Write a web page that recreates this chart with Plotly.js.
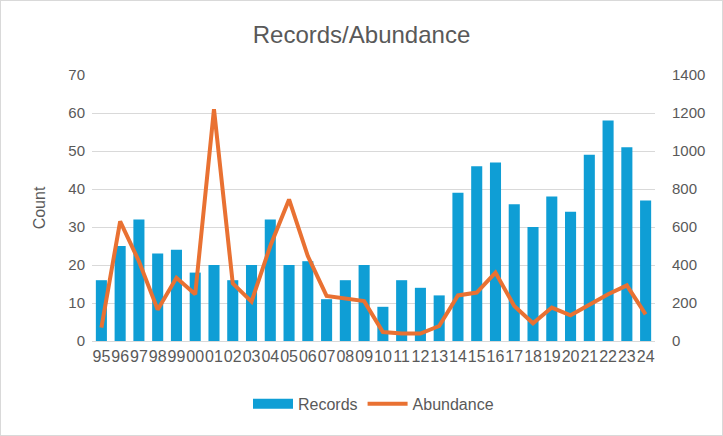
<!DOCTYPE html>
<html>
<head>
<meta charset="utf-8">
<script src="https://cdn.plot.ly/plotly-3.0.1.min.js"></script>
<style>
html,body{margin:0;padding:0;background:#fff;}
#chart{width:723px;height:436px;box-sizing:border-box;border:1px solid #d9d9d9;}
</style>
</head>
<body>
<div id="chart"></div>
<script>
const years = ["95","96","97","98","99","00","01","02","03","04","05","06","07","08","09","10","11","12","13","14","15","16","17","18","19","20","21","22","23","24"];
const records = [16,25,32,23,24,18,20,16,20,32,20,21,11,16,20,9,16,14,12,39,46,47,36,30,38,34,49,58,51,37];
const abundance = [70,630,420,165,333,246,1220,303,207,500,745,447,237,223,210,47,39,39,79,240,255,360,184,93,176,135,188,246,293,140];
const leftTicks = [0,10,20,30,40,50,60,70];
const rightTicks = [0,200,400,600,800,1000,1200,1400];

const txt = '#595959';
const fnt = 'Liberation Sans, Arial, sans-serif';

const data = [
  {type:'bar', x:years, y:records, name:'Records', marker:{color:'#0F9ED5'}, yaxis:'y', showlegend:false},
  {type:'scatter', mode:'lines', x:[null], y:[null], name:'Records', line:{color:'#0F9ED5', width:12}, yaxis:'y', hoverinfo:'skip'},
  {type:'scatter', mode:'lines', x:years, y:abundance, name:'Abundance', line:{color:'#E97132', width:4}, yaxis:'y2'}
];

const layout = {
  width:721, height:434,
  margin:{l:91, r:67, t:74, b:94},
  paper_bgcolor:'#fff', plot_bgcolor:'#fff',
  font:{family:fnt, color:txt, size:15},
  title:{text:'Records/Abundance', font:{size:24, color:txt, family:fnt}, x:0.5, xanchor:'center', y:0.943, yanchor:'top'},
  bargap:0.41,
  showlegend:true,
  legend:{orientation:'h', x:0.5, xanchor:'center', y:-0.172, yanchor:'top', font:{size:16, color:txt}, traceorder:'normal', itemwidth:40},
  xaxis:{type:'category', tickmode:'array', tickvals:years, ticktext:years, tickangle:0, tickfont:{size:16, color:txt}, showgrid:false, showline:false, ticks:'', ticklabelstandoff:4},
  yaxis:{range:[0,70], tickvals:leftTicks, tickfont:{size:15, color:txt}, gridcolor:'#d9d9d9', gridwidth:1, zeroline:true, zerolinecolor:'#d9d9d9', showline:false, ticks:'', ticklabelstandoff:6,
    title:{text:'Count', font:{size:16, color:txt}, standoff:18}},
  yaxis2:{range:[0,1400], tickvals:rightTicks, overlaying:'y', side:'right', tickfont:{size:15, color:txt}, showgrid:false, zeroline:false, showline:false, ticks:'', ticklabelstandoff:16}
};

Plotly.newPlot('chart', data, layout, {displayModeBar:false, staticPlot:true});
</script>
</body>
</html>
